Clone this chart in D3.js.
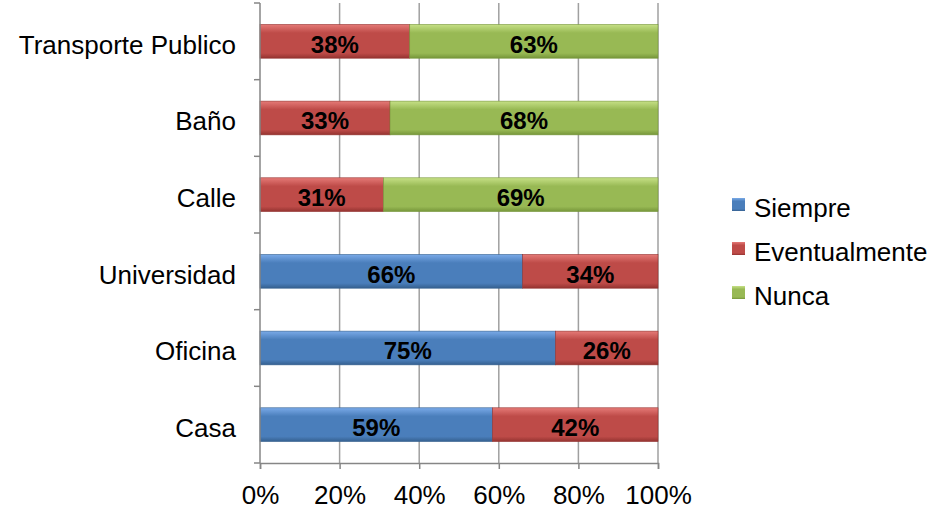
<!DOCTYPE html>
<html>
<head>
<meta charset="utf-8">
<script src="https://cdn.jsdelivr.net/npm/d3@7"></script>
<style>
  body { margin: 0; background: #fff; }
  svg { font-family: "Liberation Sans", Arial, sans-serif; }
</style>
</head>
<body>
<svg id="chart" width="932" height="512"></svg>
<script>
// categories, bottom to top as in the chart
const categories = ['Casa', 'Oficina', 'Universidad', 'Calle', 'Baño', 'Transporte Publico'];
const seriesNames = ['Siempre', 'Eventualmente', 'Nunca'];
const siempre = [59, 75, 66, 0, 0, 0];
const eventualmente = [42, 26, 34, 31, 33, 38];
const nunca = [0, 0, 0, 69, 68, 63];
const xTicks = [0, 0.2, 0.4, 0.6, 0.8, 1];

const colors = {
  Siempre: ['#7aaae8', '#4a7ebb', '#35608f'],
  Eventualmente: ['#e57a77', '#be4b48', '#943330'],
  Nunca: ['#c6e086', '#98b954', '#76963a']
};

const rows = categories.map((c, i) => ({
  cat: c,
  Siempre: siempre[i],
  Eventualmente: eventualmente[i],
  Nunca: nunca[i]
}));

const svg = d3.select('#chart');
const plotLeft = 260, plotRight = 658, plotTop = 3, plotBottom = 463;

const x = d3.scaleLinear().domain([0, 1]).range([plotLeft, plotRight]);
const y = d3.scaleBand()
  .domain(categories.slice().reverse())
  .range([plotTop, plotBottom])
  .paddingInner(0.56)
  .paddingOuter(0.28);

// gradients for the bevelled look
const defs = svg.append('defs');
seriesNames.forEach(s => {
  const g = defs.append('linearGradient')
    .attr('id', 'grad-' + s)
    .attr('x1', 0).attr('y1', 0).attr('x2', 0).attr('y2', 1);
  g.append('stop').attr('offset', '0%').attr('stop-color', colors[s][0]);
  g.append('stop').attr('offset', '25%').attr('stop-color', colors[s][1]);
  g.append('stop').attr('offset', '85%').attr('stop-color', colors[s][1]);
  g.append('stop').attr('offset', '100%').attr('stop-color', colors[s][2]);
});

// gridlines
svg.append('g')
  .selectAll('line')
  .data(xTicks.slice(1))
  .join('line')
  .attr('x1', d => x(d)).attr('x2', d => x(d))
  .attr('y1', plotTop).attr('y2', plotBottom)
  .attr('stroke', '#a0a0a0')
  .attr('stroke-width', 1.5);

const stack = d3.stack().keys(seriesNames).offset(d3.stackOffsetExpand);
const stacked = stack(rows);

const layers = svg.append('g')
  .selectAll('g')
  .data(stacked)
  .join('g')
  .attr('fill', d => 'url(#grad-' + d.key + ')')
  .attr('stroke', d => colors[d.key][2])
  .attr('stroke-width', 0.6);

layers.selectAll('rect')
  .data(d => d.filter(p => p[1] - p[0] > 0))
  .join('rect')
  .attr('x', d => x(d[0]))
  .attr('y', d => y(d.data.cat))
  .attr('width', d => x(d[1]) - x(d[0]))
  .attr('height', y.bandwidth());

// value labels
stacked.forEach(layer => {
  svg.append('g')
    .selectAll('text')
    .data(layer.filter(p => p[1] - p[0] > 0))
    .join('text')
    .attr('x', d => (x(d[0]) + x(d[1])) / 2)
    .attr('y', d => y(d.data.cat) + y.bandwidth() / 2)
    .attr('dy', '0.47em')
    .attr('text-anchor', 'middle')
    .attr('font-size', 24)
    .attr('font-weight', 'bold')
    .attr('fill', '#000')
    .text(d => d.data[layer.key] + '%');
});

// axes
const xAxis = svg.append('g')
  .attr('transform', `translate(0,${plotBottom})`)
  .call(d3.axisBottom(x).tickValues(xTicks).tickFormat(d3.format('.0%')).tickSize(6).tickPadding(17));
xAxis.select('.domain').attr('stroke', '#868686').attr('stroke-width', 1.5);
xAxis.selectAll('.tick line').attr('stroke', '#868686').attr('stroke-width', 1.5);
xAxis.selectAll('.tick text').attr('font-size', 26).attr('fill', '#000').attr('font-family', '"Liberation Sans", Arial, sans-serif');

const bandEdges = d3.range(categories.length + 1).map(i => plotTop + i * (plotBottom - plotTop) / categories.length);
const yAxis = svg.append('g');
yAxis.append('line')
  .attr('x1', plotLeft).attr('x2', plotLeft)
  .attr('y1', plotTop).attr('y2', plotBottom)
  .attr('stroke', '#868686').attr('stroke-width', 1.5);
yAxis.selectAll('line.tick')
  .data(bandEdges)
  .join('line')
  .attr('class', 'tick')
  .attr('x1', plotLeft - 6).attr('x2', plotLeft)
  .attr('y1', d => d).attr('y2', d => d)
  .attr('stroke', '#868686').attr('stroke-width', 1.5);
yAxis.selectAll('text')
  .data(categories)
  .join('text')
  .attr('x', plotLeft - 24)
  .attr('y', d => y(d) + y.bandwidth() / 2)
  .attr('dy', '0.48em')
  .attr('text-anchor', 'end')
  .attr('font-size', 26)
  .attr('fill', '#000')
  .text(d => d);

// legend
const legend = svg.append('g')
  .selectAll('g')
  .data(seriesNames)
  .join('g')
  .attr('transform', (d, i) => `translate(732,${210 + i * 44})`);
legend.append('rect')
  .attr('x', 0).attr('y', -12)
  .attr('width', 13).attr('height', 13)
  .attr('fill', d => 'url(#grad-' + d + ')');
legend.append('text')
  .attr('x', 22)
  .attr('y', 0)
  .attr('dy', '0.27em')
  .attr('font-size', 26)
  .attr('fill', '#000')
  .text(d => d);
</script>
</body>
</html>
